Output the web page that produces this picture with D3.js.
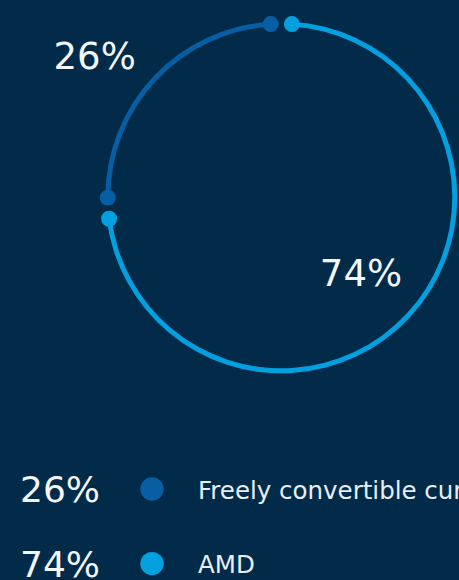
<!DOCTYPE html>
<html>
<head>
<meta charset="utf-8">
<script src="https://cdn.jsdelivr.net/npm/d3@7"></script>
<style>
  html, body { margin: 0; padding: 0; background: #022b4a; overflow: hidden; }
  svg { display: block; }
  text { font-family: "DejaVu Sans", sans-serif; }
</style>
</head>
<body>
<svg id="chart" width="459" height="580"></svg>
<script>
// Currency structure: share of each currency
const categories = ["Freely convertible currency", "AMD"];
const shares = [26, 74];
const colors = ["#075ea3", "#03a0e0"];

const W = 459, H = 580;
const cx = 281.3, cy = 197.3, R = 173.5;
const ringWidth = 5;
const pad = 3.5 * Math.PI / 180;   // gap on each side of a segment boundary
const dotR = 8;

const svg = d3.select("#chart");
svg.append("rect").attr("width", W).attr("height", H).attr("fill", "#022b4a");

const total = d3.sum(shares);
const firstSweep = 2 * Math.PI * shares[0] / total;
const pie = d3.pie().sort(null)
  .startAngle(-firstSweep)
  .endAngle(2 * Math.PI - firstSweep);
const arcs = pie(shares);

const ring = d3.arc()
  .innerRadius(R - ringWidth / 2)
  .outerRadius(R + ringWidth / 2);

const g = svg.append("g").attr("transform", `translate(${cx},${cy})`);

g.selectAll("path.seg")
  .data(arcs)
  .join("path")
  .attr("class", "seg")
  .attr("fill", (d, i) => colors[i])
  .attr("d", d => ring({ startAngle: d.startAngle + pad, endAngle: d.endAngle - pad }));

// end dots on each segment
const ends = arcs.flatMap((d, i) => [
  { a: d.startAngle + pad, i },
  { a: d.endAngle - pad, i }
]);
g.selectAll("circle.end")
  .data(ends)
  .join("circle")
  .attr("class", "end")
  .attr("r", dotR)
  .attr("fill", d => colors[d.i])
  .attr("cx", d => d3.pointRadial(d.a, R)[0])
  .attr("cy", d => d3.pointRadial(d.a, R)[1]);

// percentage labels: large share inside the ring, small share outside
const fmt = v => Math.round(v / total * 100) + "%";
g.selectAll("text.pct")
  .data(arcs)
  .join("text")
  .attr("class", "pct")
  .attr("text-anchor", "middle")
  .attr("font-size", 37)
  .attr("fill", "#f4f7fa")
  .attr("transform", d => {
    const big = d.value / total >= 0.5;
    const mid = (d.startAngle + d.endAngle) / 2 + (big ? 0 : -0.105);
    const [x, y] = d3.pointRadial(mid, big ? R * 0.63 : R * 1.35);
    return `translate(${x},${y + 13.5})`;
  })
  .text(d => fmt(d.value));

// legend
const legend = svg.append("g").attr("transform", "translate(0,489)");
const rowH = 74.6;
const rows = legend.selectAll("g.row")
  .data(categories)
  .join("g")
  .attr("class", "row")
  .attr("transform", (d, i) => `translate(0,${i * rowH})`);

rows.append("text")
  .attr("x", 20)
  .attr("y", 13)
  .attr("font-size", 36)
  .attr("fill", "#f4f7fa")
  .text((d, i) => fmt(shares[i]));

rows.append("circle")
  .attr("cx", 152)
  .attr("cy", 0)
  .attr("r", 11.7)
  .attr("fill", (d, i) => colors[i]);

rows.append("text")
  .attr("x", 198)
  .attr("y", 9.5)
  .attr("font-size", 24.5)
  .attr("fill", "#e9eef2")
  .text(d => d);
</script>
</body>
</html>
